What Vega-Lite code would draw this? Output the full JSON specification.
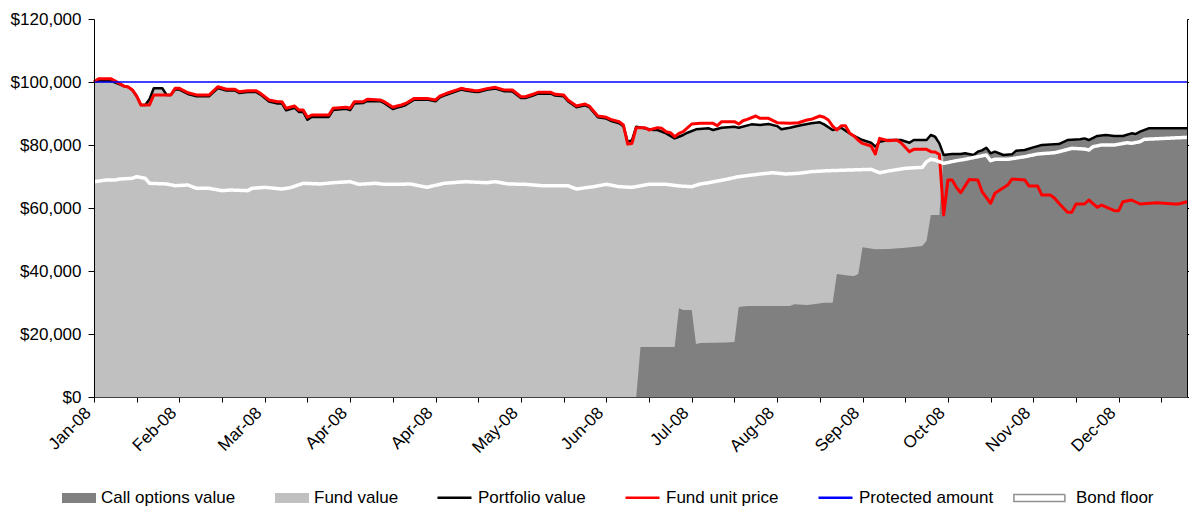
{
  "$schema": "https://vega.github.io/schema/vega-lite/v6.json",
  "width": 1093,
  "height": 378,
  "autosize": {"type": "none"},
  "padding": {"left": 94, "top": 19, "right": 2, "bottom": 112},
  "config": {"view": {"stroke": null}, "font": "Liberation Sans",
    "legend": {"orient": "none", "legendY": 461, "direction": "horizontal", "columnPadding": 37, "symbolSize": 1156,
      "labelOffset": 5, "labelFontSize": 17, "labelFont": "Liberation Sans", "labelColor": "#000000", "labelLimit": 300,
      "padding": 0, "symbolOpacity": 1}},
  "datasets": {
    "portfolio": [
      {"i":0,"v":100000},{"i":1,"v":100300},{"i":4,"v":100300},{"i":5,"v":99780},{"i":7,"v":98700},{"i":8,"v":98400},{"i":9,"v":97460},{"i":10,"v":95500},{"i":11,"v":92700},{"i":12,"v":92700},{"i":13,"v":94500},{"i":14,"v":98000},{"i":16,"v":98000},{"i":17,"v":95900},{"i":18,"v":95900},{"i":19,"v":97600},{"i":20,"v":97600},{"i":22,"v":96200},{"i":24,"v":95500},{"i":27,"v":95500},{"i":29,"v":98100},{"i":31,"v":97300},{"i":33,"v":97300},{"i":34,"v":96500},{"i":36,"v":96800},{"i":38,"v":96800},{"i":39,"v":96000},{"i":41,"v":93800},{"i":43,"v":93200},{"i":44,"v":93200},{"i":45,"v":91000},{"i":47,"v":91800},{"i":48,"v":90500},{"i":49,"v":90500},{"i":50,"v":88000},{"i":51,"v":88900},{"i":55,"v":88900},{"i":56,"v":91100},{"i":59,"v":91500},{"i":60,"v":91100},{"i":61,"v":93200},{"i":63,"v":93300},{"i":64,"v":94000},{"i":67,"v":93900},{"i":68,"v":93300},{"i":70,"v":91400},{"i":71,"v":91900},{"i":72,"v":92200},{"i":73,"v":92700},{"i":75,"v":94400},{"i":78,"v":94400},{"i":80,"v":93900},{"i":81,"v":95100},{"i":82,"v":95700},{"i":83,"v":96200},{"i":85,"v":97100},{"i":86,"v":97600},{"i":87,"v":97300},{"i":89,"v":96900},{"i":90,"v":96800},{"i":92,"v":97500},{"i":94,"v":97900},{"i":96,"v":97100},{"i":98,"v":97000},{"i":100,"v":94900},{"i":101,"v":94900},{"i":103,"v":95800},{"i":104,"v":96300},{"i":107,"v":96300},{"i":108,"v":95700},{"i":110,"v":95500},{"i":111,"v":93900},{"i":113,"v":92000},{"i":115,"v":92600},{"i":116,"v":92000},{"i":118,"v":88800},{"i":120,"v":88400},{"i":121,"v":87700},{"i":123,"v":86900},{"i":124,"v":86000},{"i":125,"v":81000},{"i":126,"v":81500},{"i":127,"v":85800},{"i":129,"v":85300},{"i":131,"v":84760},{"i":132,"v":84760},{"i":134,"v":83700},{"i":136,"v":82100},{"i":137,"v":82630},{"i":138,"v":83170},{"i":139,"v":83900},{"i":141,"v":84970},{"i":144,"v":85300},{"i":145,"v":84760},{"i":147,"v":85500},{"i":150,"v":85800},{"i":151,"v":85500},{"i":154,"v":86560},{"i":156,"v":86350},{"i":158,"v":86670},{"i":160,"v":86000},{"i":161,"v":84970},{"i":163,"v":85500},{"i":165,"v":86140},{"i":168,"v":86880},{"i":170,"v":87200},{"i":171,"v":86560},{"i":173,"v":84760},{"i":175,"v":85500},{"i":177,"v":83700},{"i":178,"v":82860},{"i":180,"v":81580},{"i":182,"v":80730},{"i":183,"v":79460},{"i":184,"v":81050},{"i":186,"v":81580},{"i":189,"v":81580},{"i":191,"v":80730},{"i":192,"v":81580},{"i":195,"v":81580},{"i":196,"v":83170},{"i":197,"v":82630},{"i":198,"v":80500},{"i":199,"v":76820},{"i":201,"v":77140},{"i":203,"v":77140},{"i":204,"v":77350},{"i":206,"v":76820},{"i":207,"v":77880},{"i":208,"v":78300},{"i":209,"v":79140},{"i":210,"v":77350},{"i":211,"v":77880},{"i":213,"v":76820},{"i":215,"v":77030},{"i":216,"v":78200},{"i":218,"v":78410},{"i":220,"v":79260},{"i":222,"v":80000},{"i":226,"v":80300},{"i":228,"v":81580},{"i":231,"v":81800},{"i":232,"v":82100},{"i":233,"v":81580},{"i":235,"v":82860},{"i":237,"v":83170},{"i":239,"v":82860},{"i":241,"v":82860},{"i":243,"v":83700},{"i":244,"v":83490},{"i":245,"v":84230},{"i":247,"v":85290},{"i":256,"v":85290}
    ],
    "unit": [
      {"i":0,"v":100000},{"i":1,"v":101000},{"i":4,"v":101000},{"i":5,"v":100300},{"i":7,"v":98700},{"i":8,"v":98400},{"i":9,"v":97460},{"i":10,"v":95500},{"i":11,"v":92700},{"i":13,"v":92700},{"i":14,"v":95900},{"i":18,"v":95900},{"i":19,"v":98000},{"i":20,"v":98000},{"i":22,"v":96600},{"i":24,"v":95900},{"i":27,"v":95900},{"i":29,"v":98500},{"i":31,"v":97700},{"i":33,"v":97700},{"i":34,"v":96900},{"i":36,"v":97200},{"i":38,"v":97200},{"i":39,"v":96400},{"i":41,"v":94300},{"i":43,"v":93750},{"i":44,"v":93750},{"i":45,"v":91650},{"i":47,"v":92380},{"i":48,"v":91100},{"i":49,"v":91100},{"i":50,"v":88800},{"i":51,"v":89520},{"i":55,"v":89520},{"i":56,"v":91650},{"i":59,"v":91970},{"i":60,"v":91650},{"i":61,"v":93750},{"i":63,"v":93750},{"i":64,"v":94500},{"i":67,"v":94300},{"i":68,"v":93750},{"i":70,"v":91970},{"i":71,"v":92380},{"i":72,"v":92700},{"i":73,"v":93200},{"i":75,"v":94800},{"i":78,"v":94800},{"i":80,"v":94300},{"i":81,"v":95500},{"i":82,"v":96100},{"i":83,"v":96600},{"i":85,"v":97500},{"i":86,"v":98000},{"i":87,"v":97700},{"i":89,"v":97300},{"i":90,"v":97200},{"i":92,"v":97900},{"i":94,"v":98300},{"i":96,"v":97500},{"i":98,"v":97460},{"i":100,"v":95330},{"i":101,"v":95330},{"i":103,"v":96200},{"i":104,"v":96730},{"i":107,"v":96730},{"i":108,"v":96100},{"i":110,"v":95900},{"i":111,"v":94300},{"i":113,"v":92380},{"i":115,"v":93000},{"i":116,"v":92380},{"i":118,"v":89200},{"i":120,"v":88800},{"i":121,"v":88150},{"i":123,"v":87400},{"i":124,"v":86350},{"i":125,"v":80300},{"i":126,"v":80500},{"i":127,"v":85500},{"i":129,"v":85500},{"i":130,"v":84760},{"i":132,"v":85500},{"i":133,"v":85300},{"i":134,"v":84220},{"i":135,"v":83900},{"i":136,"v":82630},{"i":137,"v":83700},{"i":138,"v":84220},{"i":140,"v":86670},{"i":142,"v":86880},{"i":145,"v":86880},{"i":146,"v":86130},{"i":147,"v":87400},{"i":150,"v":87400},{"i":151,"v":86670},{"i":152,"v":87700},{"i":153,"v":88150},{"i":155,"v":89200},{"i":156,"v":88470},{"i":158,"v":88470},{"i":160,"v":87080},{"i":163,"v":86880},{"i":165,"v":87080},{"i":167,"v":87940},{"i":168,"v":88150},{"i":170,"v":89200},{"i":171,"v":88800},{"i":172,"v":87940},{"i":173,"v":86000},{"i":174,"v":84760},{"i":175,"v":86130},{"i":176,"v":86130},{"i":177,"v":83700},{"i":178,"v":82860},{"i":179,"v":81500},{"i":180,"v":80500},{"i":182,"v":79680},{"i":183,"v":77140},{"i":184,"v":82100},{"i":186,"v":81370},{"i":188,"v":81580},{"i":189,"v":80730},{"i":191,"v":77880},{"i":192,"v":78620},{"i":195,"v":78620},{"i":196,"v":77880},{"i":197,"v":77770},{"i":198,"v":77000},{"i":199,"v":57780},{"i":200,"v":68900},{"i":201,"v":68900},{"i":202,"v":66500},{"i":203,"v":64860},{"i":205,"v":69080},{"i":207,"v":68900},{"i":208,"v":65200},{"i":210,"v":61490},{"i":211,"v":64650},{"i":214,"v":67300},{"i":215,"v":69200},{"i":218,"v":68900},{"i":219,"v":66980},{"i":221,"v":66980},{"i":222,"v":64130},{"i":224,"v":64130},{"i":225,"v":63080},{"i":226,"v":61490},{"i":228,"v":58630},{"i":229,"v":58630},{"i":230,"v":61270},{"i":232,"v":61270},{"i":233,"v":62540},{"i":235,"v":60220},{"i":236,"v":60950},{"i":239,"v":59140},{"i":240,"v":59140},{"i":241,"v":62000},{"i":243,"v":62540},{"i":245,"v":61270},{"i":249,"v":61700},{"i":253,"v":61270},{"i":254,"v":61270},{"i":256,"v":62000}
    ],
    "floor": [
      {"i":0,"v":68350},{"i":3,"v":68900},{"i":5,"v":68900},{"i":6,"v":69200},{"i":9,"v":69420},{"i":10,"v":69950},{"i":12,"v":69420},{"i":13,"v":67840},{"i":17,"v":67630},{"i":19,"v":67080},{"i":22,"v":67300},{"i":24,"v":66240},{"i":27,"v":66240},{"i":30,"v":65500},{"i":32,"v":65710},{"i":36,"v":65500},{"i":37,"v":66240},{"i":40,"v":66560},{"i":44,"v":66030},{"i":46,"v":66450},{"i":49,"v":67840},{"i":53,"v":67630},{"i":56,"v":68030},{"i":60,"v":68350},{"i":62,"v":67520},{"i":66,"v":67840},{"i":68,"v":67520},{"i":71,"v":67500},{"i":74,"v":67630},{"i":78,"v":66570},{"i":82,"v":67840},{"i":87,"v":68350},{"i":92,"v":68030},{"i":94,"v":68350},{"i":97,"v":67630},{"i":101,"v":67520},{"i":105,"v":67080},{"i":111,"v":67080},{"i":113,"v":66030},{"i":117,"v":66770},{"i":120,"v":67520},{"i":123,"v":66770},{"i":126,"v":66560},{"i":130,"v":67520},{"i":134,"v":67520},{"i":137,"v":67000},{"i":140,"v":66770},{"i":142,"v":67630},{"i":144,"v":68030},{"i":148,"v":69080},{"i":151,"v":69950},{"i":156,"v":70790},{"i":159,"v":71200},{"i":162,"v":70790},{"i":165,"v":71010},{"i":168,"v":71540},{"i":172,"v":71840},{"i":177,"v":72060},{"i":182,"v":72270},{"i":184,"v":71200},{"i":186,"v":71730},{"i":190,"v":72590},{"i":194,"v":72910},{"i":195,"v":74700},{"i":196,"v":75450},{"i":197,"v":75240},{"i":199,"v":74170},{"i":202,"v":75020},{"i":204,"v":75450},{"i":207,"v":76290},{"i":209,"v":76820},{"i":210,"v":75020},{"i":211,"v":75450},{"i":214,"v":75450},{"i":218,"v":76290},{"i":221,"v":77140},{"i":225,"v":77560},{"i":227,"v":78200},{"i":229,"v":78940},{"i":232,"v":78730},{"i":233,"v":78410},{"i":234,"v":79460},{"i":236,"v":80000},{"i":239,"v":80000},{"i":242,"v":80730},{"i":243,"v":80520},{"i":245,"v":81050},{"i":246,"v":81800},{"i":256,"v":82430}
    ],
    "call": [
      {"i":0,"v":0},{"i":127,"v":0},{"i":128,"v":15870},{"i":136,"v":15870},{"i":137,"v":28150},{"i":138,"v":27620},{"i":140,"v":27620},{"i":141,"v":16830},{"i":142,"v":17140},{"i":148,"v":17300},{"i":150,"v":17460},{"i":151,"v":28570},{"i":153,"v":28890},{"i":163,"v":28890},{"i":164,"v":29430},{"i":167,"v":29200},{"i":169,"v":29500},{"i":171,"v":29900},{"i":173,"v":29940},{"i":174,"v":39050},{"i":177,"v":38500},{"i":178,"v":38410},{"i":179,"v":39050},{"i":180,"v":47520},{"i":183,"v":46880},{"i":186,"v":47000},{"i":190,"v":47410},{"i":194,"v":47940},{"i":195,"v":49620},{"i":196,"v":57780},{"i":198,"v":57780},{"i":199,"v":76520},{"i":201,"v":76840},{"i":203,"v":76840},{"i":204,"v":77050},{"i":206,"v":76520},{"i":207,"v":77580},{"i":208,"v":78000},{"i":209,"v":78840},{"i":210,"v":77050},{"i":211,"v":77580},{"i":213,"v":76520},{"i":215,"v":76730},{"i":216,"v":77900},{"i":218,"v":78110},{"i":220,"v":78960},{"i":222,"v":79700},{"i":226,"v":80000},{"i":228,"v":81280},{"i":231,"v":81500},{"i":232,"v":81800},{"i":233,"v":81280},{"i":235,"v":82560},{"i":237,"v":82870},{"i":239,"v":82560},{"i":241,"v":82560},{"i":243,"v":83400},{"i":244,"v":83190},{"i":245,"v":83930},{"i":247,"v":84990},{"i":256,"v":84990}
    ],
    "protected": [{"i":0,"v":100000},{"i":256,"v":100000}]
  },
  "resolve": {"scale": {"y": "independent"}, "axis": {"y": "independent"}},
  "layer": [
    {
      "data": {"name": "portfolio"},
      "mark": {"type": "area", "interpolate": "linear", "opacity": 1},
      "encoding": {
        "x": {"field": "i", "type": "quantitative", "scale": {"domain": [0, 256], "nice": false, "zero": false},
          "axis": {"values": [0,5,10,15,20,25,30,35,40,45,50,55,60,65,70,75,80,85,90,95,100,105,110,115,120,125,130,135,140,145,150,155,160,165,170,175,180,185,190,195,200,205,210,215,220,225,230,235,240,245,250,255],
            "labelExpr": "datum.value % 20 === 0 ? ['Jan-08','Feb-08','Mar-08','Apr-08','Apr-08','May-08','Jun-08','Jul-08','Aug-08','Sep-08','Oct-08','Nov-08','Dec-08'][datum.value / 20] : ''",
            "labelAngle": -45, "labelAlign": "right", "labelBaseline": "middle", "labelPadding": 8, "labelOffset": -6,
            "labelFontSize": 17, "labelFont": "Liberation Sans", "labelColor": "#000000",
            "labelOverlap": false, "labelFlush": false, "labelBound": false, "zindex": 1,
            "tickSize": 5, "tickColor": "#000000", "domainColor": "#404040", "grid": false, "title": null}},
        "y": {"field": "v", "type": "quantitative", "stack": null, "scale": {"domain": [0, 120000], "nice": false},
          "axis": {"values": [0,20000,40000,60000,80000,100000,120000], "format": "$,.0f", "tickSize": 6, "labelPadding": 7,
            "labelFontSize": 17, "labelFont": "Liberation Sans", "labelColor": "#000000", "tickColor": "#000000",
            "domainColor": "#000000", "grid": false, "title": null, "zindex": 1}},
        "fill": {"datum": "Fund value",
          "scale": {"domain": ["Call options value", "Fund value"], "range": ["#808080", "#C0C0C0"]},
          "legend": {"legendX": -32, "legendY": 462, "columns": 2, "columnPadding": 39, "symbolType": "M-1,-0.3H1V0.3H-1Z", "symbolStrokeWidth": 0, "title": null}}
      }
    },
    {
      "data": {"name": "call"},
      "mark": {"type": "area", "interpolate": "linear", "opacity": 1},
      "encoding": {
        "x": {"field": "i", "type": "quantitative", "scale": {"domain": [0, 256], "nice": false, "zero": false}},
        "y": {"field": "v", "type": "quantitative", "stack": null, "scale": {"domain": [0, 120000], "nice": false}, "axis": null},
        "fill": {"datum": "Call options value"}
      }
    },
    {
      "data": {"name": "portfolio"},
      "mark": {"type": "line", "strokeWidth": 2.5, "strokeJoin": "round"},
      "encoding": {
        "x": {"field": "i", "type": "quantitative", "scale": {"domain": [0, 256], "nice": false, "zero": false}},
        "y": {"field": "v", "type": "quantitative", "scale": {"domain": [0, 120000], "nice": false}, "axis": null},
        "stroke": {"datum": "Portfolio value",
          "scale": {"domain": ["Portfolio value", "Fund unit price", "Protected amount"], "range": ["#000000", "#FF0000", "#0000FF"]},
          "legend": {"legendX": 342, "legendY": 460, "columns": 3, "columnPadding": 34, "symbolType": "stroke", "symbolStrokeWidth": 2.5, "title": null}}
      }
    },
    {
      "data": {"name": "unit"},
      "mark": {"type": "line", "strokeWidth": 3, "strokeJoin": "round"},
      "encoding": {
        "x": {"field": "i", "type": "quantitative", "scale": {"domain": [0, 256], "nice": false, "zero": false}},
        "y": {"field": "v", "type": "quantitative", "scale": {"domain": [0, 120000], "nice": false}, "axis": null},
        "stroke": {"datum": "Fund unit price"}
      }
    },
    {
      "data": {"name": "protected"},
      "mark": {"type": "line", "strokeWidth": 1.5},
      "encoding": {
        "x": {"field": "i", "type": "quantitative", "scale": {"domain": [0, 256], "nice": false, "zero": false}},
        "y": {"field": "v", "type": "quantitative", "scale": {"domain": [0, 120000], "nice": false},
          "axis": {"orient": "right", "values": [0,20000,40000,60000,80000,100000,120000], "labels": false, "tickSize": 3,
            "tickColor": "#000000", "domainColor": "#000000", "domainWidth": 1, "grid": false, "title": null, "zindex": 2}},
        "stroke": {"datum": "Protected amount"}
      }
    },
    {
      "data": {"name": "floor"},
      "mark": {"type": "line", "stroke": "#FFFFFF", "strokeWidth": 3.5, "strokeJoin": "round"},
      "encoding": {
        "x": {"field": "i", "type": "quantitative", "scale": {"domain": [0, 256], "nice": false, "zero": false}},
        "y": {"field": "v", "type": "quantitative", "scale": {"domain": [0, 120000], "nice": false}, "axis": null},
        "strokeDash": {"datum": "Bond floor",
          "scale": {"domain": ["Bond floor"], "range": [[1, 0]]},
          "legend": {"legendX": 941, "columns": 1, "symbolType": "M-2.3,-0.2H0.7V0.2H-2.3Z", "symbolFillColor": "#FFFFFF",
            "symbolStrokeColor": "#909090", "symbolStrokeWidth": 1.5, "title": null}}
      }
    }
  ]
}
